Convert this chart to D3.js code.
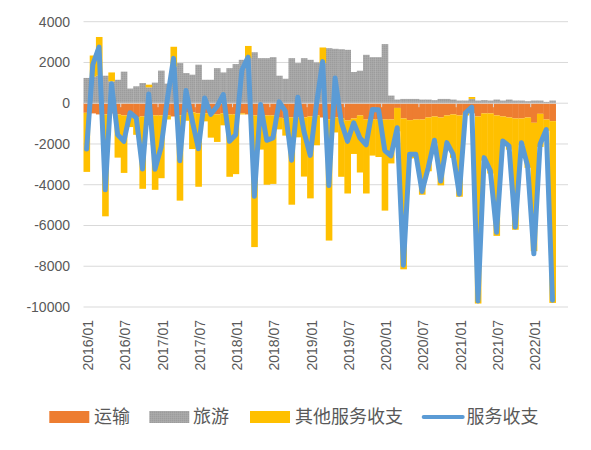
<!DOCTYPE html>
<html>
<head>
<meta charset="utf-8">
<script src="https://cdn.jsdelivr.net/npm/d3@7"></script>
<style>
  body { margin: 0; background: #fff; }
  svg { display: block; }
  text { font-family: "Liberation Sans", Arial, sans-serif; fill: #595959; }
</style>
</head>
<body>
<div id="chart"></div>
<script>
// categories (monthly), last two months have no data
const months = [
  "2016/01","2016/02","2016/03","2016/04","2016/05","2016/06","2016/07","2016/08","2016/09","2016/10","2016/11","2016/12",
  "2017/01","2017/02","2017/03","2017/04","2017/05","2017/06","2017/07","2017/08","2017/09","2017/10","2017/11","2017/12",
  "2018/01","2018/02","2018/03","2018/04","2018/05","2018/06","2018/07","2018/08","2018/09","2018/10","2018/11","2018/12",
  "2019/01","2019/02","2019/03","2019/04","2019/05","2019/06","2019/07","2019/08","2019/09","2019/10","2019/11","2019/12",
  "2020/01","2020/02","2020/03","2020/04","2020/05","2020/06","2020/07","2020/08","2020/09","2020/10","2020/11","2020/12",
  "2021/01","2021/02","2021/03","2021/04","2021/05","2021/06","2021/07","2021/08","2021/09","2021/10","2021/11","2021/12",
  "2022/01","2022/02","2022/03","2022/04","2022/05","2022/06"
];

// 运输
const transport = [
  -470,-500,-550,-550,-500,-550,-600,-700,-700,-650,-500,-600,
  -600,-600,-650,-600,-470,-450,-500,-500,-550,-550,-500,-550,
  -550,-500,-550,-600,-650,-600,-600,-715,-750,-700,-700,-700,
  -650,-600,-700,-800,-700,-750,-850,-750,-600,-800,-800,-800,
  -800,-800,-230,-750,-830,-800,-800,-700,-650,-700,-600,-550,
  -600,-500,-500,-650,-500,-500,-600,-650,-700,-750,-750,-700,
  -960,-520,-800,-880,null,null
];

// 旅游
const travel = [
  1240,1300,1350,1350,1070,1150,1550,720,830,990,780,1010,
  1600,960,1800,1970,1480,1400,1890,1150,1150,1720,1510,1720,
  1920,2130,2210,2500,2210,2210,2260,1350,1200,2210,1970,2210,
  2130,2000,1970,2700,2670,2650,2620,1530,1595,2375,2260,2260,
  2900,375,180,210,210,210,180,180,150,210,210,180,
  130,130,210,130,150,130,180,130,180,130,130,100,
  130,130,65,130,null,null
];

// 其他服务收支
const other = [
  -2900,1040,1900,-5000,440,-2120,-2820,-470,-850,-3550,130,-3650,
  -3080,-200,970,-4180,-390,-1800,-3600,-390,-1140,-1350,-585,-3060,
  -2930,-50,600,-6460,-1625,-3400,-3360,-570,-840,-4280,-975,-2900,
  -4020,-1465,765,-5940,-735,-2860,-3580,-1740,-2800,-3630,-1770,-1840,
  -4470,-2155,-1150,-7400,-1880,-1900,-3690,-2640,-1320,-3330,-1545,-2130,
  -3990,-100,95,-9180,-2320,-2950,-5910,-1330,-1580,-5460,-1315,-2470,
  -6300,-1625,-555,-8920,null,null
];

// 服务收支
const total = [
  -2250,1900,2750,-4250,950,-1550,-1870,-470,-720,-3230,450,-3240,
  -2150,200,2200,-2820,620,-850,-2230,260,-545,-160,425,-1870,
  -1550,1630,2260,-4570,-65,-1820,-1700,65,-390,-2800,295,-1400,
  -2560,-65,2040,-4040,1235,-920,-1870,-960,-1700,-2040,-310,-320,
  -2320,-2580,-1200,-7950,-2500,-2500,-4330,-3160,-1820,-3820,-1935,-2500,
  -4460,-470,-195,-9700,-2670,-3320,-6330,-1850,-2100,-6080,-1935,-3070,
  -7390,-2015,-1290,-9670,null,null
];

const xTickLabels = ["2016/01","2016/07","2017/01","2017/07","2018/01","2018/07","2019/01",
                     "2019/07","2020/01","2020/07","2021/01","2021/07","2022/01"];
const yTicks = [4000, 2000, 0, -2000, -4000, -6000, -8000, -10000];

const seriesNames = ["运输", "旅游", "其他服务收支", "服务收支"];
const colors = { transport: "#ED7D31", travel: "url(#travelPattern)", other: "#FFC000", total: "#5B9BD5" };

const width = 591, height = 450;
const plot = { left: 83.5, right: 568, top: 21.7, bottom: 307 };

const svg = d3.select("#chart").append("svg")
    .attr("width", width)
    .attr("height", height);

svg.append("rect").attr("width", width).attr("height", height).attr("fill", "#fff");

// fine gray texture, like the excel pattern fill
const pat = svg.append("defs").append("pattern")
    .attr("id", "travelPattern")
    .attr("patternUnits", "userSpaceOnUse")
    .attr("width", 2).attr("height", 2);
pat.append("rect").attr("width", 2).attr("height", 2).attr("fill", "#a6a6a6");
pat.append("rect").attr("x", 0).attr("y", 0).attr("width", 1).attr("height", 1).attr("fill", "#9c9c9c");
pat.append("rect").attr("x", 1).attr("y", 1).attr("width", 1).attr("height", 1).attr("fill", "#ababab");

const x = d3.scaleBand().domain(months).range([plot.left, plot.right]).padding(0);
const y = d3.scaleLinear().domain([-10000, 4000]).range([plot.bottom, plot.top]);

// gridlines
svg.append("g")
    .selectAll("line")
    .data(yTicks.filter(d => d !== 0))
    .enter().append("line")
    .attr("x1", plot.left).attr("x2", plot.right)
    .attr("y1", d => y(d)).attr("y2", d => y(d))
    .attr("stroke", "#d9d9d9").attr("stroke-width", 1);

// y labels
svg.append("g")
    .selectAll("text")
    .data(yTicks)
    .enter().append("text")
    .attr("x", 70)
    .attr("y", d => y(d))
    .attr("dy", "0.35em")
    .attr("text-anchor", "end")
    .style("font-size", "14px")
    .text(d => d);

// stacked bars (diverging like excel)
const rows = months.map((m, i) => ({
    month: m,
    transport: transport[i] ?? 0,
    travel: travel[i] ?? 0,
    other: other[i] ?? 0,
    has: total[i] != null
}));

const stack = d3.stack()
    .keys(["transport", "travel", "other"])
    .offset(d3.stackOffsetDiverging);
const layers = stack(rows);

svg.append("g")
    .selectAll("g")
    .data(layers)
    .enter().append("g")
    .attr("fill", d => colors[d.key])
    .selectAll("rect")
    .data(d => d.filter(p => p.data.has))
    .enter().append("rect")
    .attr("x", d => x(d.data.month))
    .attr("width", x.bandwidth() + 0.4)
    .attr("y", d => y(Math.max(d[0], d[1])))
    .attr("height", d => Math.abs(y(d[0]) - y(d[1])));

// category axis at zero
const axis = svg.append("g");
axis.append("line")
    .attr("x1", plot.left).attr("x2", plot.right)
    .attr("y1", y(0)).attr("y2", y(0))
    .attr("stroke", "#d9d9d9").attr("stroke-width", 1);
axis.selectAll(".tick")
    .data(xTickLabels.slice(1))
    .enter().append("line")
    .attr("x1", d => x(d)).attr("x2", d => x(d))
    .attr("y1", y(0)).attr("y2", y(0) + 4)
    .attr("stroke", "#d9d9d9").attr("stroke-width", 1);

// total line
const line = d3.line()
    .defined(d => d.v != null)
    .x(d => x(d.m) + x.bandwidth() / 2)
    .y(d => y(d.v));

svg.append("path")
    .datum(months.map((m, i) => ({ m: m, v: total[i] })))
    .attr("fill", "none")
    .attr("stroke", colors.total)
    .attr("stroke-width", 5)
    .attr("stroke-linejoin", "round")
    .attr("stroke-linecap", "round")
    .attr("d", line);

// x labels, rotated
svg.append("g")
    .selectAll("text")
    .data(xTickLabels)
    .enter().append("text")
    .attr("transform", d => `translate(${x(d) + x.bandwidth() / 2 + 1.5}, 320) rotate(-90)`)
    .attr("dy", "0.35em")
    .attr("text-anchor", "end")
    .style("font-size", "14px")
    .text(d => d);

// legend
const legendData = [
    { label: seriesNames[0], color: colors.transport, x: 49.3, tx: 94, type: "rect" },
    { label: seriesNames[1], color: colors.travel, x: 149.3, tx: 193, type: "rect" },
    { label: seriesNames[2], color: colors.other, x: 250, tx: 295, type: "rect" },
    { label: seriesNames[3], color: colors.total, x: 421.7, tx: 466.5, type: "line" }
];

const legend = svg.append("g").attr("class", "legend");
const ly = 417;

legend.selectAll("rect")
    .data(legendData.filter(d => d.type === "rect"))
    .enter().append("rect")
    .attr("x", d => d.x)
    .attr("y", ly - 6)
    .attr("width", 40)
    .attr("height", 12)
    .attr("fill", d => d.color);

legend.selectAll("line")
    .data(legendData.filter(d => d.type === "line"))
    .enter().append("line")
    .attr("x1", d => d.x + 2).attr("x2", d => d.x + 41)
    .attr("y1", ly).attr("y2", ly)
    .attr("stroke", d => d.color)
    .attr("stroke-width", 4)
    .attr("stroke-linecap", "round");

legend.selectAll("text")
    .data(legendData)
    .enter().append("text")
    .attr("x", d => d.tx)
    .attr("y", ly)
    .attr("dy", "0.36em")
    .style("font-family", "'Noto Sans CJK SC', sans-serif")
    .style("font-size", "18px")
    .text(d => d.label);
</script>
</body>
</html>
